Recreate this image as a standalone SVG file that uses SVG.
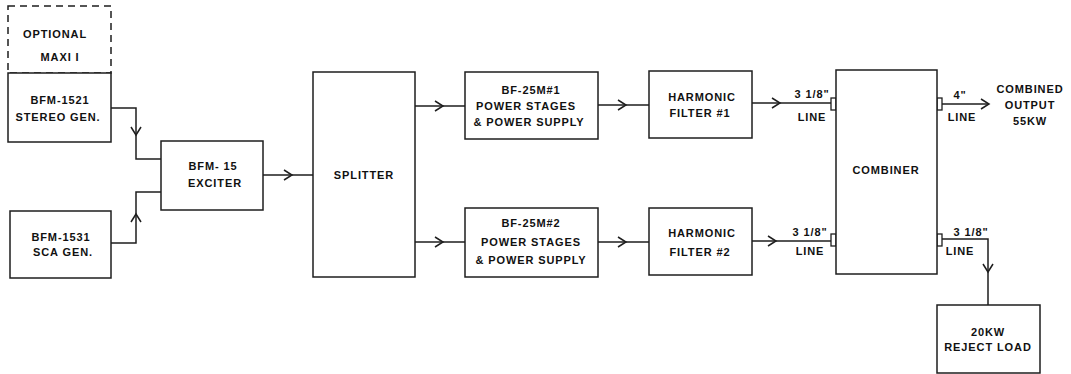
<svg xmlns="http://www.w3.org/2000/svg" xmlns:xlink="http://www.w3.org/1999/xlink" width="1071" height="374" viewBox="0 0 1071 374">
<style>
  .box{fill:#fff;stroke:#1e1e1e;stroke-width:1.5}
  .dash{fill:none;stroke:#1e1e1e;stroke-width:1.5;stroke-dasharray:7 5}
  .ln{fill:none;stroke:#1e1e1e;stroke-width:1.5}
  .fl{fill:#fff;stroke:#1e1e1e;stroke-width:1.3}
  text{font-family:"Liberation Sans",Arial,sans-serif;font-size:11px;font-weight:bold;fill:#111;text-anchor:middle;letter-spacing:0.9px}
</style>
<defs>
  <path id="chev" d="M-8,-5 L0,0 L-8,5" fill="none" stroke="#1e1e1e" stroke-width="1.5"/>
</defs>
<rect width="1071" height="374" fill="#fff"/>

<g id="connectors">
  <path class="ln" d="M111,108 H136 V159 H161"/>
  <use xlink:href="#chev" transform="translate(136,135) rotate(90)"/>
  <path class="ln" d="M111,243 H136 V192 H161"/>
  <use xlink:href="#chev" transform="translate(136,214) rotate(-90)"/>
  <path class="ln" d="M263,175 H313"/>
  <use xlink:href="#chev" transform="translate(292,175)"/>
  <path class="ln" d="M415,106 H465"/>
  <use xlink:href="#chev" transform="translate(443,106)"/>
  <path class="ln" d="M415,242 H465"/>
  <use xlink:href="#chev" transform="translate(443,242)"/>
  <path class="ln" d="M598,105 H649"/>
  <use xlink:href="#chev" transform="translate(626,105)"/>
  <path class="ln" d="M598,242 H649"/>
  <use xlink:href="#chev" transform="translate(626,242)"/>
  <path class="ln" d="M752,103 H831"/>
  <use xlink:href="#chev" transform="translate(780,103)"/>
  <path class="ln" d="M752,241 H831"/>
  <use xlink:href="#chev" transform="translate(776,241)"/>
  <path class="ln" d="M942,104 H988"/>
  <use xlink:href="#chev" transform="translate(989,104)"/>
  <path class="ln" d="M942,239 H988 V305"/>
  <use xlink:href="#chev" transform="translate(988,272) rotate(90)"/>
  <rect class="fl" x="831" y="98" width="5" height="12"/>
  <rect class="fl" x="831" y="234" width="5" height="12"/>
  <rect class="fl" x="937" y="98" width="5" height="12"/>
  <rect class="fl" x="937" y="234" width="5" height="12"/>
  <text x="812" y="98">3 1/8"</text>
  <text x="812" y="121">LINE</text>
  <text x="810" y="236">3 1/8"</text>
  <text x="810" y="255">LINE</text>
  <text x="960" y="99">4"</text>
  <text x="962" y="121">LINE</text>
  <text x="971" y="236">3 1/8"</text>
  <text x="960" y="255">LINE</text>
  <text x="1030" y="93">COMBINED</text>
  <text x="1030" y="109">OUTPUT</text>
  <text x="1030" y="125">55KW</text>
</g>

<g id="maxi">
  <rect class="dash" x="8" y="6" width="103" height="67"/>
  <text x="55" y="38">OPTIONAL</text>
  <text x="60" y="61">MAXI I</text>
</g>
<g id="stereo">
  <rect class="box" x="8" y="73" width="103" height="69"/>
  <text x="60" y="104">BFM-1521</text>
  <text x="58" y="121">STEREO GEN.</text>
</g>
<g id="sca">
  <rect class="box" x="10" y="211" width="101" height="67"/>
  <text x="61" y="241">BFM-1531</text>
  <text x="63" y="256">SCA GEN.</text>
</g>
<g id="exciter">
  <rect class="box" x="161" y="141" width="102" height="69"/>
  <text x="213" y="170">BFM- 15</text>
  <text x="215" y="187">EXCITER</text>
</g>
<g id="splitter">
  <rect class="box" x="313" y="72" width="102" height="205"/>
  <text x="364" y="179">SPLITTER</text>
</g>
<g id="pa1">
  <rect class="box" x="465" y="72" width="133" height="67"/>
  <text x="531" y="94">BF-25M#1</text>
  <text x="526" y="110">POWER STAGES</text>
  <text x="529" y="126">&amp; POWER SUPPLY</text>
</g>
<g id="pa2">
  <rect class="box" x="465" y="208" width="133" height="69"/>
  <text x="531" y="227">BF-25M#2</text>
  <text x="531" y="246">POWER STAGES</text>
  <text x="531" y="264">&amp; POWER SUPPLY</text>
</g>
<g id="hf1">
  <rect class="box" x="649" y="71" width="103" height="67"/>
  <text x="702" y="101">HARMONIC</text>
  <text x="700" y="117">FILTER #1</text>
</g>
<g id="hf2">
  <rect class="box" x="649" y="208" width="103" height="67"/>
  <text x="702" y="237">HARMONIC</text>
  <text x="700" y="256">FILTER #2</text>
</g>
<g id="combiner">
  <rect class="box" x="836" y="70" width="101" height="204"/>
  <text x="886" y="174">COMBINER</text>
</g>
<g id="reject">
  <rect class="box" x="937" y="305" width="103" height="68"/>
  <text x="988" y="336">20KW</text>
  <text x="988" y="351">REJECT LOAD</text>
</g>
</svg>
